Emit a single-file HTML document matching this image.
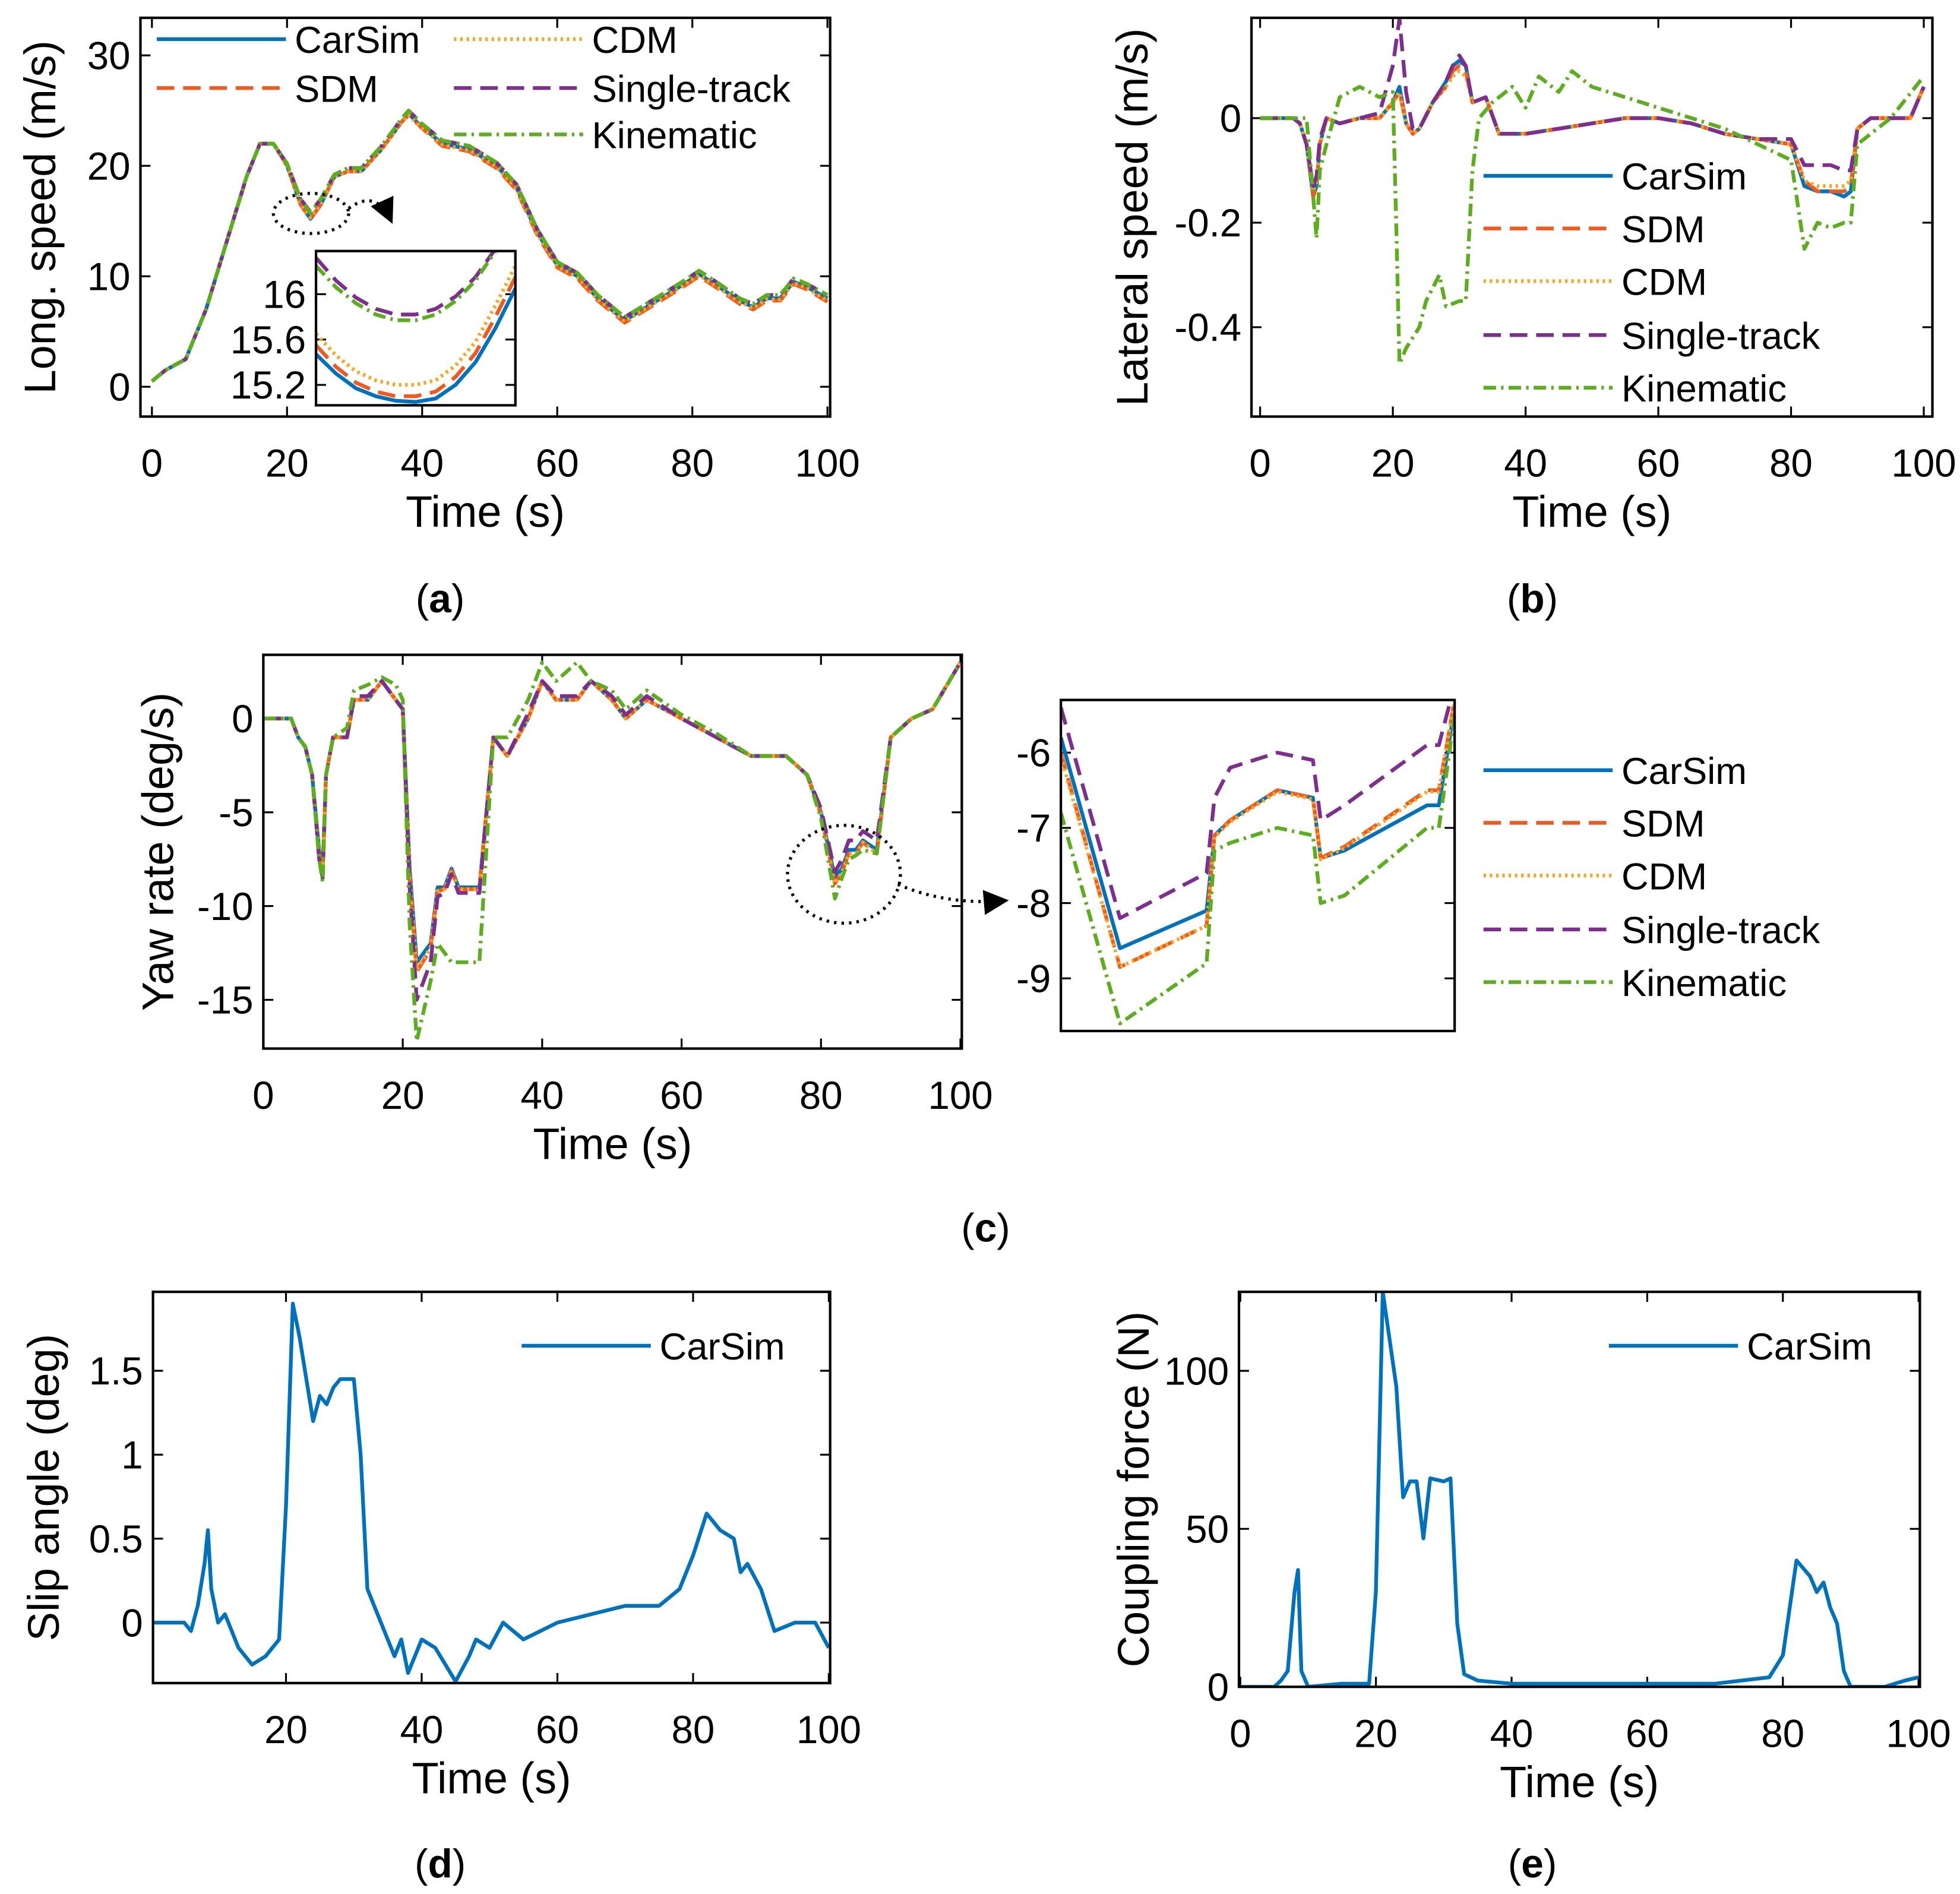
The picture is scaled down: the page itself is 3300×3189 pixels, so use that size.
<!DOCTYPE html>
<html><head><meta charset="utf-8"><style>
html,body{margin:0;padding:0;background:#fff}
svg{display:block}
text{font-family:"Liberation Sans",sans-serif}
</style></head><body>
<svg id="root" width="3300" height="3189" viewBox="0 0 1563 1510" xmlns="http://www.w3.org/2000/svg">
<defs><marker id="arr" markerWidth="8" markerHeight="8" refX="7" refY="4" orient="auto"><path d="M0,0 L8,4 L0,8 z" fill="#000"/></marker></defs>
<g id="g"></g>
<text x="351" y="488" font-family="Liberation Serif" font-size="32" text-anchor="middle">(<tspan font-weight="bold">a</tspan>)</text>
<text x="1222" y="488" font-family="Liberation Serif" font-size="32" text-anchor="middle">(<tspan font-weight="bold">b</tspan>)</text>
<text x="786" y="990" font-family="Liberation Serif" font-size="32" text-anchor="middle">(<tspan font-weight="bold">c</tspan>)</text>
<text x="351" y="1497" font-family="Liberation Serif" font-size="32" text-anchor="middle">(<tspan font-weight="bold">d</tspan>)</text>
<text x="1222" y="1497" font-family="Liberation Serif" font-size="32" text-anchor="middle">(<tspan font-weight="bold">e</tspan>)</text>
<ellipse cx="248" cy="170" rx="30" ry="16" fill="none" stroke="#000" stroke-width="2.5" stroke-dasharray="2,4"/>
<path d="M278,166 Q300,150 312,176" fill="none" stroke="#000" stroke-width="2.5" stroke-dasharray="2,4" marker-end="url(#arr)"/>
<ellipse cx="673" cy="697" rx="45" ry="39" fill="none" stroke="#000" stroke-width="2.5" stroke-dasharray="2,4"/>
<path d="M716,705 Q755,722 802,718" fill="none" stroke="#000" stroke-width="2.5" stroke-dasharray="2,4" marker-end="url(#arr)"/>
</svg>
<script>
// ---- data ----
const aT=[0,2,5,8,11,14,16,18,20,22,23.5,25,27,29,31,34,37,38,40,43,47,51,54,57,60,63,66,70,74,78,81,84,87,89,91,93,95,97,100];
const aCar=[0.5,1.5,2.5,7,13,19,22,22,20,16.5,15.2,16.5,19,19.5,19.5,21.5,24,24.7,23.5,22,21.5,20,18,14,11,10,8,6,7.5,9,10.2,9,7.8,7.2,8,8,9.5,9,8];
const aSdm=[0.5,1.5,2.5,7,13,19,22,22,20,16.5,15.2,16.5,19,19.5,19.5,21.5,24,24.6,23.4,21.8,21.3,19.8,17.8,13.8,10.8,9.8,7.8,5.8,7.3,8.8,10,8.8,7.5,7,7.8,7.8,9.3,8.8,7.7];
const aCdm=[0.5,1.5,2.5,7,13,19,22,22,20,16.6,15.3,16.6,19,19.5,19.5,21.5,24,24.6,23.4,21.9,21.4,19.9,17.9,13.9,10.9,9.9,7.9,5.9,7.4,8.9,10.1,8.9,7.7,7.1,7.9,7.9,9.4,8.9,7.8];
const aSgl=[0.5,1.5,2.5,7,13,19,22,22,20.2,17,15.8,17,19.2,19.8,19.8,21.8,24.3,25,23.8,22.3,21.8,20.3,18.3,14.3,11.3,10.3,8.3,6.3,7.8,9.3,10.5,9.3,8,7.5,8.3,8.3,9.8,9.3,8.3];
const aKin=[0.5,1.5,2.5,7,13,19,22,22,20.2,17,15.7,17,19.2,19.8,19.8,21.8,24.3,25,23.8,22.3,21.8,20.3,18.3,14.3,11.3,10.3,8.3,6.3,7.8,9.3,10.5,9.3,8,7.5,8.3,8.3,9.8,9.3,8.3];
const aiT=[0,1,2,3,4,5,6,7,8,9,10];
const aiCar=[15.47,15.3,15.17,15.1,15.06,15.05,15.08,15.2,15.4,15.7,16.05];
const aiSdm=[15.55,15.36,15.22,15.14,15.1,15.1,15.14,15.27,15.48,15.8,16.15];
const aiCdm=[15.65,15.46,15.32,15.24,15.2,15.2,15.24,15.37,15.58,15.9,16.25];
const aiSgl=[16.32,16.12,15.97,15.87,15.82,15.82,15.87,15.98,16.15,16.4,16.7];
const aiKin=[16.25,16.06,15.92,15.82,15.77,15.77,15.82,15.94,16.12,16.38,16.7];
const bT=[0,5,6,7,8,8.5,9,10,12,15,18,20,21,22,23,24,26,28,29,30,31,32,34,36,40,45,50,55,60,65,70,75,80,82,84,86,88,89,90,92,95,98,100];
const bCar=[0,0,-0.01,-0.05,-0.15,-0.13,-0.05,0,-0.01,0,0,0.03,0.06,-0.01,-0.03,-0.02,0.03,0.07,0.1,0.11,0.1,0.03,0.04,-0.03,-0.03,-0.02,-0.01,0,0,-0.01,-0.03,-0.04,-0.05,-0.13,-0.14,-0.14,-0.15,-0.14,-0.02,0,0,0,0.06];
const bSdm=[0,0,-0.01,-0.05,-0.15,-0.13,-0.05,0,-0.01,0,0,0.03,0.05,-0.01,-0.03,-0.02,0.03,0.06,0.09,0.1,0.09,0.03,0.04,-0.03,-0.03,-0.02,-0.01,0,0,-0.01,-0.03,-0.04,-0.05,-0.12,-0.14,-0.14,-0.14,-0.13,-0.02,0,0,0,0.06];
const bCdm=[0,0,-0.01,-0.05,-0.14,-0.12,-0.05,0,-0.01,0,0,0.03,0.05,-0.01,-0.03,-0.02,0.03,0.06,0.08,0.09,0.08,0.03,0.04,-0.03,-0.03,-0.02,-0.01,0,0,-0.01,-0.03,-0.04,-0.05,-0.12,-0.13,-0.13,-0.13,-0.12,-0.02,0,0,0,0.06];
const bSgl=[0,0,-0.01,-0.05,-0.13,-0.11,-0.04,0,-0.01,0,0.01,0.1,0.19,0.05,-0.02,-0.02,0.03,0.07,0.1,0.12,0.1,0.03,0.04,-0.03,-0.03,-0.02,-0.01,0,0,-0.01,-0.03,-0.04,-0.04,-0.09,-0.09,-0.09,-0.1,-0.1,-0.02,0,0,0,0.06];
const bKT=[0,7,8,8.5,9,10,12,15,18,20,20.5,21,22,24,25,27,28,30,31,32,33,35,38,40,42,45,47,50,55,60,65,70,75,80,82,84,86,88,89,90,95,100];
const bKin=[0,0,-0.15,-0.23,-0.1,-0.05,0.04,0.06,0.04,0.05,-0.2,-0.47,-0.44,-0.4,-0.35,-0.3,-0.36,-0.35,-0.35,-0.1,0,0.03,0.06,0.02,0.08,0.05,0.09,0.06,0.04,0.02,0,-0.02,-0.05,-0.08,-0.25,-0.2,-0.21,-0.2,-0.2,-0.05,0,0.08];
const cT=[0,4,5,6,7,8,8.5,9,10,12,13,15,17,19,20,21,22,24,25,26,27,28,30,31,33,35,38,40,42,45,47,50,52,55,60,65,70,75,78,80,82,83,84,85,86,88,90,93,96,100];
const cCar=[0,0,-1,-1.5,-3,-7,-8,-3,-1,-1,1,1,2,1,0.5,-8,-13,-12,-9,-9,-8,-9,-9,-9,-1,-2,0,2,1,1,2,1,0,1,0,-1,-2,-2,-3,-5,-8.5,-8,-7,-7,-6.5,-7,-1,0,0.5,3];
const cSdm=[0,0,-1,-1.5,-3,-7.2,-8.2,-3,-1,-1,1,1,2,1,0.5,-8.5,-13.5,-12.3,-9.2,-9.1,-8.1,-9.1,-9.1,-9.1,-1,-2,0,2,1,1,2,1,0,1,0,-1,-2,-2,-3,-5.1,-8.8,-8.2,-7.2,-7.2,-6.6,-7.2,-1,0,0.5,3];
const cCdm=[0,0,-1,-1.5,-3,-7.2,-8.2,-3,-1,-1,1,1,2,1,0.5,-8.5,-13.4,-12.2,-9.2,-9.1,-8.1,-9.1,-9.1,-9.1,-1,-2,0,2,1,1,2,1,0,1,0,-1,-2,-2,-3,-5.1,-8.8,-8.2,-7.2,-7.2,-6.6,-7.2,-1,0,0.5,3];
const cSgl=[0,0,-1,-1.5,-3,-7.5,-8.5,-3,-1,-1,1.2,1.2,2,1,0.5,-9,-15,-13,-9.5,-9.3,-8.3,-9.3,-9.3,-9.3,-1,-2,0.3,2,1.2,1.2,2,1.2,0.2,1.2,0,-1,-2,-2,-3,-4.8,-8.2,-7.5,-6.5,-6.5,-6,-6.5,-1,0,0.5,3];
const cKin=[0,0,-1,-1.5,-3,-7.5,-8.7,-3,-1,-0.5,1.5,1.8,2.2,1.8,1,-11,-17.2,-14,-12,-12.5,-13,-13,-13,-13,-1,-1,1,3,2,3,2,1.5,0.5,1.5,0.2,-0.8,-2,-2,-3,-5.3,-9.6,-8.5,-7.5,-7.3,-7,-7.2,-1,0,0.5,3];
const ciT=[80,81.5,83.7,83.9,84.3,85.5,86.4,86.6,87.2,89.3,89.6,90];
const ciCar=[-5.8,-8.6,-8.1,-7.1,-6.9,-6.5,-6.6,-7.4,-7.3,-6.7,-6.7,-5.4];
const ciSdm=[-6,-8.85,-8.3,-7.1,-6.9,-6.5,-6.6,-7.4,-7.25,-6.5,-6.5,-5.3];
const ciCdm=[-6.05,-8.85,-8.3,-7.12,-6.92,-6.52,-6.62,-7.42,-7.27,-6.52,-6.52,-5.3];
const ciSgl=[-5.4,-8.2,-7.6,-6.6,-6.2,-6,-6.1,-6.9,-6.7,-5.9,-5.9,-5.1];
const ciKin=[-6.8,-9.6,-8.8,-7.3,-7.2,-7,-7.1,-8,-7.9,-7,-7,-5.5];
const dT=[0,5,6,7,8,8.5,9,10,11,12,13,15,17,19,20,21,22,24,25,26,27,28,29,30,31,32,33,35,36,37,38,40,42,45,47,48,50,52,55,60,65,70,75,78,80,82,84,86,87,88,90,92,95,98,100];
const dCar=[0,0,-0.05,0.1,0.35,0.55,0.2,0,0.05,-0.05,-0.15,-0.25,-0.2,-0.1,0.7,1.9,1.7,1.2,1.35,1.3,1.4,1.45,1.45,1.45,1,0.2,0.1,-0.1,-0.2,-0.1,-0.3,-0.1,-0.15,-0.35,-0.2,-0.1,-0.15,0,-0.1,0,0.05,0.1,0.1,0.2,0.4,0.65,0.55,0.5,0.3,0.35,0.2,-0.05,0,0,-0.15];
const eT=[0,5,6,7,8,8.5,9,10,15,19,20,21,22,23,24,25,26,27,28,30,31,32,33,35,40,50,60,70,78,80,82,84,85,86,87,88,89,90,95,98,100];
const eCar=[0,0,2,5,30,37,5,0,1,1,30,125,110,95,60,65,65,47,66,65,66,20,4,2,1,1,1,1,3,10,40,35,30,33,25,20,5,0,0,2,3];
const names=["CarSim","SDM","CDM","Single-track","Kinematic"];
// ---- styles ----
const ST={CarSim:{c:"#0072BD",d:""},SDM:{c:"#F05A1E",d:"14,7"},CDM:{c:"#F5A623",d:"2,3"},"Single-track":{c:"#7E2F8E",d:"14,7"},Kinematic:{c:"#5DAE1E",d:"10,4,2,4"}};
const NS="http://www.w3.org/2000/svg",G=document.getElementById("g");
let cid=0;
function el(tag,attrs,parent){const e=document.createElementNS(NS,tag);for(const k in attrs)e.setAttribute(k,attrs[k]);(parent||G).appendChild(e);return e;}
function axes(o){
  const g=el("g",{});
  
  
  const sx=v=>o.x0+(v-o.xmin)/(o.xmax-o.xmin)*(o.x1-o.x0);
  const sy=v=>o.y1-(v-o.ymin)/(o.ymax-o.ymin)*(o.y1-o.y0);
  const id="clip"+(cid++);
  const cp=el("clipPath",{id:id},g);el("rect",{x:o.x0,y:o.y0,width:o.x1-o.x0,height:o.y1-o.y0},cp);
  const fs=o.fs||31;
  (o.xt||[]).forEach(t=>{const X=sx(t);
    el("line",{x1:X,x2:X,y1:o.y1,y2:o.y1-8,stroke:"#000","stroke-width":1.5},g);
    el("line",{x1:X,x2:X,y1:o.y0,y2:o.y0+8,stroke:"#000","stroke-width":1.5},g);
    const tx=el("text",{x:X,y:o.y1+48,"font-size":fs,"text-anchor":"middle"},g);tx.textContent=t;
    
    });
  (o.yt||[]).forEach((t,i)=>{const Y=sy(t);
    el("line",{x1:o.x0,x2:o.x0+8,y1:Y,y2:Y,stroke:"#000","stroke-width":1.5},g);
    el("line",{x1:o.x1,x2:o.x1-8,y1:Y,y2:Y,stroke:"#000","stroke-width":1.5},g);
    const tx=el("text",{x:o.x0-8,y:Y+11,"font-size":fs,"text-anchor":"end"},g);tx.textContent=(o.ytl?o.ytl[i]:t);
    
    });
  const lg=el("g",{"clip-path":"url(#"+id+")"},g);
  o.series.forEach(s=>{const st=ST[s.n];
    const p=el("polyline",{points:s.t.map((t,i)=>sx(t).toFixed(1)+","+sy(s.v[i]).toFixed(1)).join(" "),fill:"none",stroke:st.c,"stroke-width":3,"stroke-dasharray":st.d,"stroke-linejoin":"round"},lg);
    
    });
  el("rect",{x:o.x0,y:o.y0,width:o.x1-o.x0,height:o.y1-o.y0,fill:"none",stroke:"#000","stroke-width":2},g);
  if(o.xl){const t=el("text",{x:(o.x0+o.x1)/2,y:o.y1+88,"font-size":35,"text-anchor":"middle"},g);t.textContent=o.xl;
    }
  if(o.yl){const t=el("text",{x:0,y:0,"font-size":35,"text-anchor":"middle",transform:`translate(${o.ylx},${(o.y0+o.y1)/2}) rotate(-90)`},g);t.textContent=o.yl;
    }
  return g;
}
function legend(entries){entries.forEach(e=>{const st=ST[e[0]];
  const l=el("line",{x1:e[1],x2:e[1]+103,y1:e[2],y2:e[2],stroke:st.c,"stroke-width":3,"stroke-dasharray":st.d});
  
  
  const t=el("text",{x:e[1]+110,y:e[2]+11,"font-size":30});t.textContent=e[0];
  
  });}
const S=(arrT,vals)=>names.map((n,i)=>({n:n,t:arrT,v:vals[i]}));
// (a)
axes({name:"chart-long-speed",x0:112,x1:662,y0:14,y1:332,xmin:-1.7,xmax:100.4,ymin:-2.7,ymax:33.4,xt:[0,20,40,60,80,100],yt:[0,10,20,30],xl:"Time (s)",yl:"Long. speed (m/s)",ylx:44,
  series:S(aT,[aCar,aSdm,aCdm,aSgl,aKin])});
legend([["CarSim",125,31],["CDM",362,31],["SDM",125,70],["Single-track",362,70],["Kinematic",362,107]]);
axes({name:"inset-long-speed",x0:252,x1:411,y0:200,y1:323,xmin:0,xmax:10,ymin:15.02,ymax:16.38,yt:[15.2,15.6,16],ytl:["15.2","15.6","16"],
  series:S(aiT,[aiCar,aiSdm,aiCdm,aiSgl,aiKin])});
// (b)
axes({name:"chart-lateral-speed",x0:998,x1:1541,y0:14,y1:332,xmin:-1.3,xmax:101.3,ymin:-0.571,ymax:0.192,xt:[0,20,40,60,80,100],yt:[-0.4,-0.2,0],xl:"Time (s)",yl:"Lateral speed (m/s)",ylx:915,
  series:[{n:"CarSim",t:bT,v:bCar},{n:"SDM",t:bT,v:bSdm},{n:"CDM",t:bT,v:bCdm},{n:"Single-track",t:bT,v:bSgl},{n:"Kinematic",t:bKT,v:bKin}]});
legend([["CarSim",1183,140],["SDM",1183,182],["CDM",1183,224],["Single-track",1183,267],["Kinematic",1183,309]]);
// (c)
axes({name:"chart-yaw-rate",x0:210,x1:767,y0:522,y1:836,xmin:0,xmax:100.2,ymin:-17.6,ymax:3.4,xt:[0,20,40,60,80,100],yt:[-15,-10,-5,0],xl:"Time (s)",yl:"Yaw rate (deg/s)",ylx:138,
  series:S(cT,[cCar,cSdm,cCdm,cSgl,cKin])});
axes({name:"inset-yaw-rate",x0:846,x1:1160,y0:558,y1:822,xmin:80,xmax:90,ymin:-9.7,ymax:-5.3,yt:[-9,-8,-7,-6],
  series:S(ciT,[ciCar,ciSdm,ciCdm,ciSgl,ciKin])});
legend([["CarSim",1183,614],["SDM",1183,656],["CDM",1183,698],["Single-track",1183,741],["Kinematic",1183,783]]);
// (d)
axes({name:"chart-slip-angle",x0:122,x1:662,y0:1030,y1:1342,xmin:0.4,xmax:100.2,ymin:-0.36,ymax:1.97,xt:[20,40,60,80,100],yt:[0,0.5,1,1.5],xl:"Time (s)",yl:"Slip angle (deg)",ylx:47,
  series:[{n:"CarSim",t:dT,v:dCar}]});
legend([["CarSim",416,1073]]);
// (e)
axes({name:"chart-coupling-force",x0:988,x1:1531,y0:1030,y1:1345,xmin:-0.2,xmax:100.2,ymin:0,ymax:125,xt:[0,20,40,60,80,100],yt:[0,50,100],xl:"Time (s)",yl:"Coupling  force (N)",ylx:916,
  series:[{n:"CarSim",t:eT,v:eCar}]});
legend([["CarSim",1283,1073]]);
</script>
</body></html>
